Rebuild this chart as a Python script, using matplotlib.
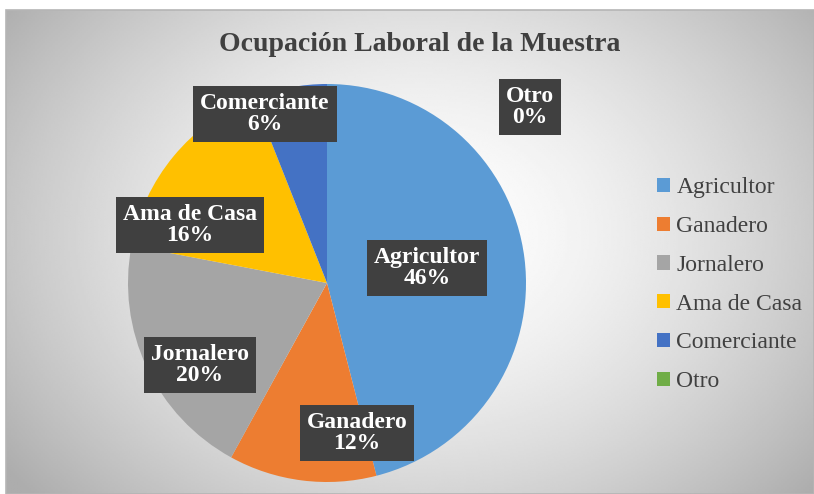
import matplotlib.pyplot as plt
import numpy as np
from matplotlib import font_manager
from matplotlib.patches import Patch, Rectangle

categories = ['Agricultor', 'Ganadero', 'Jornalero', 'Ama de Casa', 'Comerciante', 'Otro']
values = [46, 12, 20, 16, 6, 0]
colors = ['#5B9BD5', '#ED7D31', '#A5A5A5', '#FFC000', '#4472C4', '#70AD47']
# label box centres in pixels (x from left, y from top), as placed in the original
label_pos = [(427, 268), (357, 433), (200, 365), (190, 225), (265, 114), (530, 107)]

W, H = 814, 494

bold_path = font_manager.findfont(font_manager.FontProperties(family='Liberation Serif', weight='bold'))
reg_path = font_manager.findfont(font_manager.FontProperties(family='Liberation Serif', weight='normal'))


def serif(size, bold=False):
    return font_manager.FontProperties(fname=bold_path if bold else reg_path, size=size)


fig = plt.figure(figsize=(W / 100, H / 100), dpi=100)
ax = fig.add_axes([0, 0, 1, 1])

# radial grey background of the chart area
x0, y0, x1, y1 = 6, 0, W, H - 10
gx, gy = np.meshgrid(np.linspace(x0, x1, 400), np.linspace(y0, y1, 240))
d = np.sqrt(((gx - 420) / 430) ** 2 + ((gy - 260) / 330) ** 2)
shade = 1 - 0.24 * np.clip(d, 0, 1.2) ** 1.6
ax.imshow(shade, extent=(x0, x1, y0, y1), origin='lower', cmap='gray',
          vmin=0, vmax=1, zorder=0, interpolation='bilinear')
ax.add_patch(Rectangle((x0, y0), x1 - x0, y1 - y0, fill=False,
                       edgecolor='#b5b5b5', linewidth=1.2, zorder=1))

total = sum(values)
ax.pie(values, colors=colors, startangle=90, counterclock=False,
       center=(327, H - 283), radius=199, frame=True,
       wedgeprops=dict(linewidth=0, zorder=2))
ax.set_xlim(0, W)
ax.set_ylim(0, H)
ax.set_aspect('equal')
ax.axis('off')

for name, v, (px, py) in zip(categories, values, label_pos):
    ax.text(px, H - py, f'{name}\n{v / total * 100:.0f}%', ha='center', va='center',
            color='white', fontproperties=serif(17, True), linespacing=1.0, zorder=5,
            bbox=dict(boxstyle='square,pad=0.3', facecolor='#404040', edgecolor='none'))

ax.text(420, H - 44, 'Ocupación Laboral de la Muestra', ha='center', va='center',
        fontproperties=serif(20, True), color='#404040', zorder=5)

handles = [Patch(facecolor=c, edgecolor='none') for c in colors]
leg = ax.legend(handles, categories, loc='upper left', bbox_to_anchor=(648 / W, 1 - 168 / H),
                frameon=False, prop=serif(17), handlelength=0.55,
                handleheight=0.55, handletextpad=0.25, labelspacing=0.75,
                labelcolor='#404040', borderaxespad=0)

fig.savefig('out.png', dpi=100)
